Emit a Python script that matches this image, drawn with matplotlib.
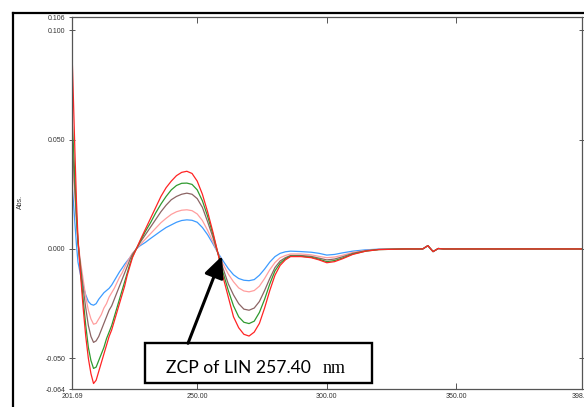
import matplotlib
matplotlib.use("Agg")
import matplotlib.pyplot as plt
from matplotlib.lines import Line2D
from matplotlib.patches import Rectangle, FancyArrowPatch

# ---- data (wavelength, nm) ----
wavelength = [201.69, 202.2, 202.8, 203.4, 204.0, 205.0, 206.0, 207.0, 208.0, 209.0,
              210.0, 211.0, 212.0, 213.0, 214.0, 215.0, 216.0, 217.0, 218.0, 219.0,
              220.0, 221.0, 222.0, 223.0, 224.0, 225.0, 226.5, 228.0, 230.0, 232.0,
              234.0, 236.0, 238.0, 240.0, 242.0, 244.0, 246.0, 248.0, 250.0, 252.0,
              254.0, 256.0, 258.0, 260.0, 262.0, 264.0, 266.0, 268.0, 270.0, 272.0,
              274.0, 276.0, 278.0, 280.0, 282.0, 284.0, 286.0, 290.0, 294.0, 297.0,
              300.0, 303.0, 306.0, 310.0, 315.0, 320.0, 330.0, 337.0, 339.0, 341.0,
              343.0, 345.0, 398.46]

tail = [0.0, 0.0, 0.0015, -0.0012, 0.0002, 0.0, 0.0]

abs_red = [0.090, 0.070, 0.045, 0.022, 0.005, -0.012, -0.027, -0.040, -0.050, -0.057,
           -0.0615, -0.060, -0.056, -0.052, -0.048, -0.044, -0.040, -0.037, -0.033, -0.029,
           -0.025, -0.021, -0.017, -0.012, -0.008, -0.004, 0.000, 0.004, 0.009, 0.014,
           0.019, 0.024, 0.028, 0.031, 0.0335, 0.035, 0.0355, 0.0345, 0.031, 0.025,
           0.017, 0.008, -0.002, -0.013, -0.022, -0.031, -0.036, -0.039, -0.0398, -0.038,
           -0.034, -0.027, -0.019, -0.012, -0.0075, -0.0050, -0.0035, -0.0035, -0.004, -0.005,
           -0.0063, -0.0058, -0.0045, -0.0025, -0.001, -0.0003] + tail

abs_green = [0.060, 0.048, 0.032, 0.016, 0.003, -0.010, -0.023, -0.035, -0.045, -0.051,
             -0.0546, -0.054, -0.051, -0.048, -0.045, -0.041, -0.038, -0.035, -0.031, -0.027,
             -0.023, -0.019, -0.015, -0.011, -0.007, -0.0035, 0.000, 0.0035, 0.008, 0.012,
             0.0165, 0.0205, 0.024, 0.027, 0.029, 0.030, 0.0301, 0.0295, 0.027, 0.022,
             0.015, 0.007, -0.002, -0.011, -0.019, -0.026, -0.031, -0.0335, -0.0341, -0.033,
             -0.029, -0.023, -0.016, -0.010, -0.0065, -0.0045, -0.0033, -0.0033, -0.0038, -0.0047,
             -0.0058, -0.0053, -0.0042, -0.0023, -0.001, -0.0003] + tail

abs_brown = [0.050, 0.040, 0.027, 0.014, 0.003, -0.008, -0.018, -0.027, -0.035, -0.040,
             -0.0427, -0.042, -0.040, -0.037, -0.034, -0.031, -0.028, -0.026, -0.023, -0.020,
             -0.017, -0.014, -0.011, -0.008, -0.005, -0.0025, 0.000, 0.003, 0.0065, 0.010,
             0.0135, 0.017, 0.020, 0.0225, 0.024, 0.025, 0.0255, 0.025, 0.023, 0.019,
             0.0125, 0.0055, -0.002, -0.009, -0.016, -0.021, -0.025, -0.0275, -0.028, -0.027,
             -0.024, -0.019, -0.0135, -0.0085, -0.0055, -0.004, -0.003, -0.003, -0.0034, -0.0042,
             -0.005, -0.0046, -0.0036, -0.002, -0.0008, -0.0002] + tail

abs_pink = [0.045, 0.035, 0.024, 0.013, 0.003, -0.006, -0.014, -0.022, -0.028, -0.032,
            -0.0344, -0.034, -0.032, -0.030, -0.027, -0.025, -0.022, -0.020, -0.018, -0.0155,
            -0.013, -0.011, -0.0085, -0.006, -0.004, -0.002, 0.000, 0.002, 0.0045, 0.007,
            0.0095, 0.012, 0.014, 0.0158, 0.017, 0.0177, 0.0179, 0.0175, 0.016, 0.013,
            0.0085, 0.0035, -0.002, -0.007, -0.0115, -0.015, -0.0178, -0.0192, -0.0196, -0.019,
            -0.017, -0.0135, -0.0095, -0.0062, -0.004, -0.003, -0.0023, -0.0023, -0.0027, -0.0034,
            -0.004, -0.0037, -0.0029, -0.0016, -0.0007, -0.0002] + tail

abs_blue = [0.030, 0.022, 0.012, 0.002, -0.006, -0.012, -0.017, -0.021, -0.024, -0.0253,
            -0.0257, -0.025, -0.023, -0.0215, -0.020, -0.019, -0.018, -0.0165, -0.0145, -0.0125,
            -0.0105, -0.0088, -0.007, -0.0055, -0.004, -0.0022, 0.000, 0.0015, 0.003, 0.0048,
            0.0065, 0.0082, 0.0098, 0.011, 0.0122, 0.013, 0.0133, 0.0131, 0.0122, 0.0098,
            0.0065, 0.0025, -0.0018, -0.0055, -0.009, -0.0118, -0.0135, -0.0143, -0.0145, -0.014,
            -0.012, -0.0092, -0.006, -0.0035, -0.002, -0.0013, -0.001, -0.0012, -0.0015, -0.002,
            -0.0028, -0.0025, -0.0018, -0.001, -0.0004, -0.0001] + tail

x_ticks = [201.69, 250.0, 300.0, 350.0, 398.46]
x_tick_labels = ["201.69", "250.00", "300.00", "350.00", "398.46"]
y_ticks = [0.106, 0.100, 0.050, 0.000, -0.050, -0.064]
y_tick_labels = ["0.106", "0.100", "0.050", "0.000", "-0.050", "-0.064"]

annot_main = "ZCP of LIN 257.40"
annot_unit = "nm"

# ---- figure ----
W, H = 584, 407
fig = plt.figure(figsize=(W / 100, H / 100), dpi=100)
fig.patch.set_facecolor("white")

# outer frame (partially visible)
fig.add_artist(Line2D([12.5 / W, 12.5 / W], [0, 1 - 12.5 / H], color="black", lw=1.6,
                      transform=fig.transFigure))
fig.add_artist(Line2D([12.5 / W, 1.0], [1 - 12.5 / H, 1 - 12.5 / H], color="black", lw=1.6,
                      transform=fig.transFigure))

ax = fig.add_axes([72 / W, (H - 389) / H, (582 - 72) / W, (389 - 17) / H])
ax.set_xlim(x_ticks[0], x_ticks[-1])
ax.set_ylim(y_ticks[-1], y_ticks[0])

series = [
    (abs_blue, "#3d9bff"),
    (abs_pink, "#ff9e9e"),
    (abs_brown, "#8c6464"),
    (abs_green, "#2f9a2f"),
    (abs_red, "#ff2424"),
]
for ys, c in series:
    ax.plot(wavelength, ys, color=c, lw=0.9)

for s in ax.spines.values():
    s.set_color("#555555")
    s.set_linewidth(0.9)

ax.set_xticks(x_ticks)
ax.set_xticklabels(x_tick_labels)
ax.set_yticks(y_ticks)
ax.set_yticklabels(y_tick_labels)
ax.tick_params(axis="both", labelsize=5, labelcolor="#333333", color="#555555",
               width=0.7)
ax.tick_params(axis="x", direction="in", length=4, top=True, pad=3)
ax.tick_params(axis="y", direction="inout", length=5, right=True, pad=2)
for lab in ax.get_xticklabels() + ax.get_yticklabels():
    lab.set_family("Liberation Sans")

fig.text(20 / W, 1 - 202 / H, "Abs.", rotation=90, fontsize=5, color="#333333",
         family="Liberation Sans", ha="center", va="center")

# annotation box + arrow (pixel-based placement)
def px2data(px, py):
    return ax.transData.inverted().transform((px, H - py))

x0, y0 = px2data(145, 383.3)
x1, y1 = px2data(372.3, 343.3)
ax.add_patch(Rectangle((x0, y0), x1 - x0, y1 - y0, facecolor="white", edgecolor="black",
                       lw=1.7, zorder=10, clip_on=False))

tail_xy = px2data(188, 343.3)
tip_xy = px2data(222, 256)
ax.add_patch(FancyArrowPatch(tail_xy, tip_xy, arrowstyle="-|>,head_length=13,head_width=6",
                             mutation_scale=1.0, color="black", lw=2.2, zorder=11,
                             shrinkA=0, shrinkB=0, clip_on=False))

fig.text(166 / W, 1 - 372.7 / H, annot_main, fontsize=12.6, family="Lato", color="black",
         ha="left", va="baseline", zorder=12)
fig.text(322.7 / W, 1 - 372.7 / H, annot_unit, fontsize=13, family="Liberation Serif",
         color="black", ha="left", va="baseline", zorder=12)

fig.savefig("out.png", dpi=100, facecolor="white")
